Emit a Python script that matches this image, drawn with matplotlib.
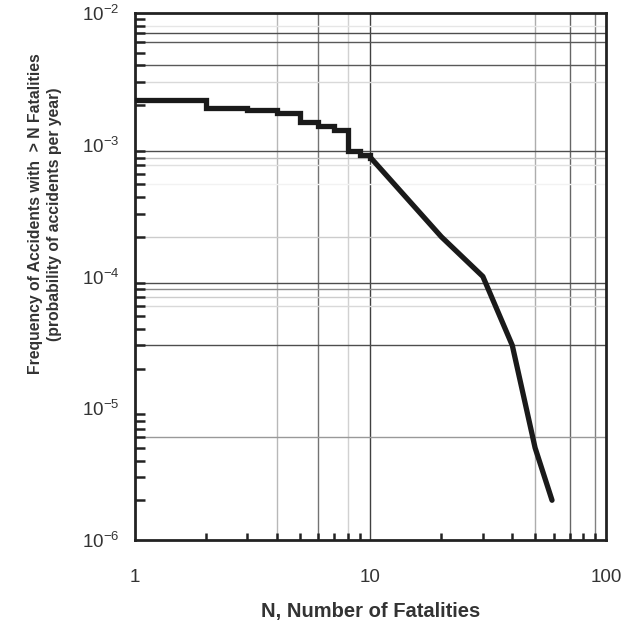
import matplotlib.pyplot as plt
import numpy as np
from matplotlib.ticker import LogLocator, NullFormatter, FixedLocator

plt.rcParams['font.family'] = ['Liberation Sans', 'DejaVu Sans']
plt.rcParams['mathtext.default'] = 'regular'

# step part of the curve (N = 1..10)
step_n = [1, 2, 3, 4, 5, 6, 7, 8, 9, 10]
step_f = [2.2e-3, 1.9e-3, 1.84e-3, 1.75e-3, 1.5e-3, 1.4e-3, 1.3e-3, 9.0e-4, 8.3e-4, 8.0e-4]

# smooth tail (N = 10..60)
tail_n = [10, 20, 30, 40, 50, 59]
tail_f = [8.0e-4, 2.0e-4, 1.0e-4, 3.0e-5, 5.0e-6, 2.0e-6]

x_ticks = [1, 10, 100]
x_labels = ['1', '10', '100']
y_ticks = [1e-6, 1e-5, 1e-4, 1e-3, 1e-2]
y_labels = ['$10^{-6}$', '$10^{-5}$', '$10^{-4}$', '$10^{-3}$', '$10^{-2}$']

# odd grid lines from the scanned original: (value, gray level)
vgrid = [(4, 0.72), (6, 0.45), (8, 0.82), (10, 0.25), (50, 0.68), (70, 0.4), (90, 0.5)]
hgrid = [(8e-3, 0.9), (7e-3, 0.3), (6e-3, 0.35), (4e-3, 0.35), (3e-3, 0.85),
         (9e-4, 0.3), (8e-4, 0.75), (7e-4, 0.88), (5e-4, 0.95), (2e-4, 0.8),
         (9e-5, 0.3), (8e-5, 0.55), (7e-5, 0.8), (6e-5, 0.85), (3e-5, 0.3),
         (6e-6, 0.6)]

fig = plt.figure(figsize=(6.23, 6.22), dpi=100)
ax = fig.add_axes([0.2167, 0.132, 0.756, 0.847])

ax.set_xscale('log')
ax.set_yscale('log')
ax.set_xlim(1, 100)
ax.set_ylim(1e-6, 1e-2)

for v, g in vgrid:
    ax.axvline(v, color=str(g), lw=1.0, zorder=1)
for v, g in hgrid:
    ax.axhline(v, color=str(g), lw=1.0, zorder=1)

ax.step(step_n, step_f, where='post', color='#1a1a1a', lw=3.8, zorder=3,
        solid_joinstyle='miter')
ax.plot(tail_n, tail_f, color='#1a1a1a', lw=3.8, zorder=3,
        solid_capstyle='round', solid_joinstyle='round')

for s in ax.spines.values():
    s.set_linewidth(2.0)
    s.set_color('#222222')

ax.xaxis.set_major_locator(FixedLocator(x_ticks))
ax.set_xticklabels(x_labels)
ax.xaxis.set_minor_locator(LogLocator(base=10, subs=np.arange(2, 10)))
ax.xaxis.set_minor_formatter(NullFormatter())
ax.yaxis.set_major_locator(FixedLocator(y_ticks))
ax.set_yticklabels(y_labels)
ax.yaxis.set_minor_locator(LogLocator(base=10, subs=np.arange(2, 10), numticks=20))
ax.yaxis.set_minor_formatter(NullFormatter())

ax.tick_params(which='both', direction='in', color='#222222', width=1.8)
ax.tick_params(axis='x', which='major', length=0, pad=21, labelsize=13.5, labelcolor='#333333')
ax.tick_params(axis='x', which='minor', length=5)
ax.tick_params(axis='y', which='major', length=0, pad=11, labelsize=13.5, labelcolor='#333333')
ax.tick_params(axis='y', which='minor', length=7)

ax.set_xlabel('N, Number of Fatalities', fontsize=14.5, fontweight='bold',
              color='#333333')
ax.xaxis.set_label_coords(0.501, -0.118)
ax.set_ylabel('Frequency of Accidents with  > N Fatalities\n(probability of accidents per year)',
              fontsize=11.3, fontweight='bold', color='#333333', linespacing=1.3)
ax.yaxis.set_label_coords(-0.155, 0.619)

fig.savefig('out.png', dpi=100)
